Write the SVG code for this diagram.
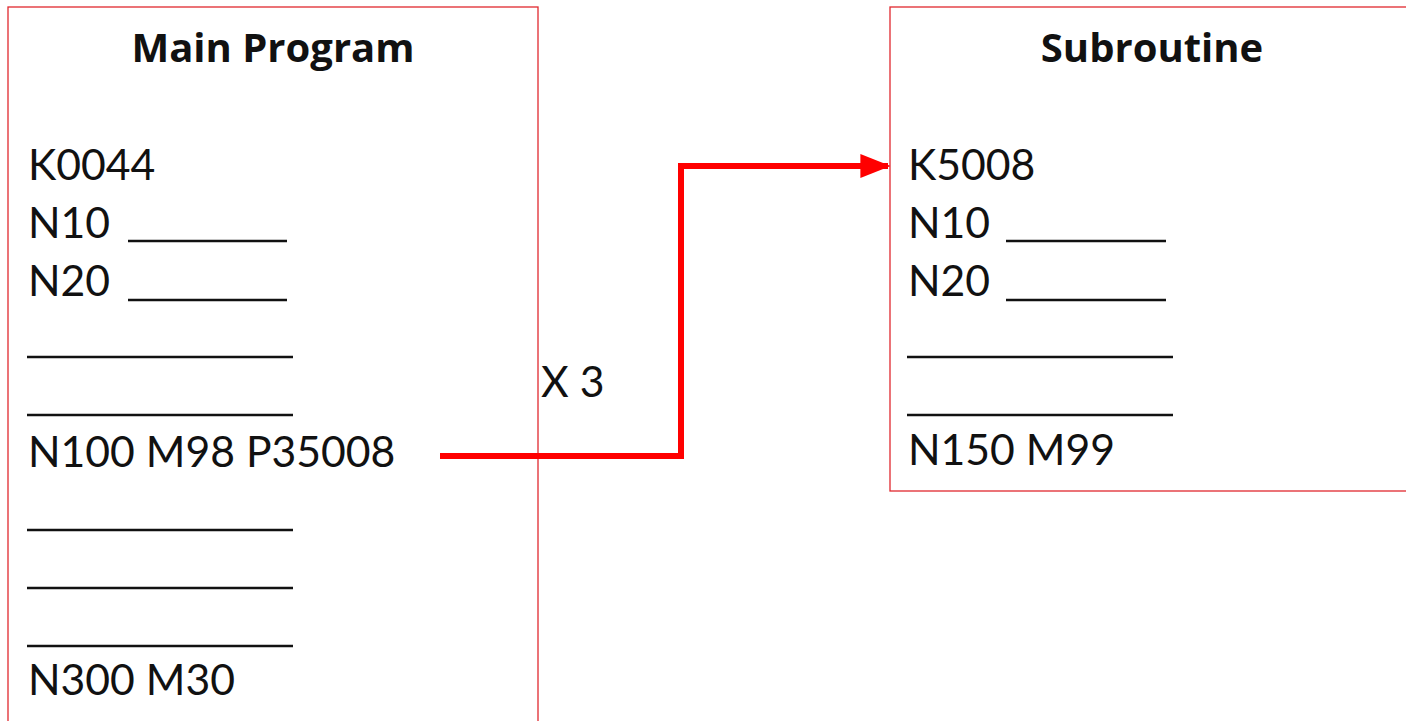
<svg xmlns="http://www.w3.org/2000/svg" width="1406" height="721" viewBox="0 0 1406 721">
<defs>
<style>
.box{fill:#fff;stroke:#e0282e;stroke-width:1.3}
.title{font-family:"Open Sans","Liberation Sans",sans-serif;font-weight:bold;font-size:40px;fill:#111;text-anchor:middle}
.code{font-family:Lato,"Liberation Sans",sans-serif;font-size:42.7px;fill:#111}
.blank{stroke:#111;stroke-width:2.5}
.conn{fill:none;stroke:#f00;stroke-width:6;stroke-linejoin:miter}
</style>
<marker id="ah" markerWidth="5" markerHeight="4" refX="4.6" refY="2" orient="auto" markerUnits="strokeWidth">
<path d="M0,0 L5,2 L0,4 Z" fill="#f00"/>
</marker>
</defs>
<rect width="1406" height="721" fill="#fff"/>
<g id="main-program">
<rect class="box" x="8" y="7" width="530" height="730"/>
<text class="title" x="273" y="62">Main Program</text>
<text class="code" x="28" y="180">K0044</text>
<text class="code" x="28" y="238">N10</text>
<line class="blank" x1="128" y1="241" x2="287" y2="241"/>
<text class="code" x="28" y="296">N20</text>
<line class="blank" x1="128" y1="300" x2="287" y2="300"/>
<line class="blank" x1="27" y1="357" x2="293" y2="357"/>
<line class="blank" x1="27" y1="415" x2="293" y2="415"/>
<text class="code" x="28" y="467">N100 M98 P35008</text>
<line class="blank" x1="27" y1="530" x2="293" y2="530"/>
<line class="blank" x1="27" y1="588" x2="293" y2="588"/>
<line class="blank" x1="27" y1="646" x2="293" y2="646"/>
<text class="code" x="28" y="695">N300 M30</text>
</g>
<g id="subroutine">
<rect class="box" x="890" y="7" width="530" height="484"/>
<text class="title" x="1152" y="62">Subroutine</text>
<text class="code" x="908" y="180">K5008</text>
<text class="code" x="908" y="238">N10</text>
<line class="blank" x1="1006" y1="241" x2="1166" y2="241"/>
<text class="code" x="908" y="296">N20</text>
<line class="blank" x1="1006" y1="300" x2="1166" y2="300"/>
<line class="blank" x1="907" y1="357" x2="1173" y2="357"/>
<line class="blank" x1="907" y1="415" x2="1173" y2="415"/>
<text class="code" x="908" y="465">N150 M99</text>
</g>
<g id="connectors">
<path class="conn" d="M440,456 L681,456 L681,166 L888,166" marker-end="url(#ah)"/>
<text class="code" x="541" y="397">X 3</text>
</g>
</svg>
